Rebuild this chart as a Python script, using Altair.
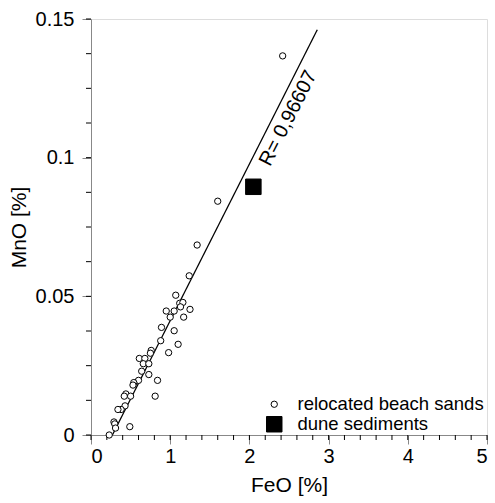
import altair as alt
import pandas as pd

# relocated beach sands (FeO %, MnO %)
beach_feo = [2.42, 1.60, 1.34, 1.24, 1.07, 0.95, 1.05, 1.12, 1.16, 1.13, 1.00, 1.17, 1.25,
             0.89, 1.05, 0.88, 1.10, 0.98, 0.76, 0.75, 0.61, 0.68, 0.66, 0.73, 0.64, 0.73,
             0.84, 0.60, 0.54, 0.53, 0.81, 0.44, 0.42, 0.50, 0.43, 0.38, 0.34, 0.29, 0.30,
             0.31, 0.49, 0.23]
beach_mno = [0.1367, 0.0843, 0.0685, 0.0574, 0.0504, 0.0447, 0.0447, 0.0475, 0.0478, 0.0462,
             0.0425, 0.0425, 0.0453, 0.0388, 0.0376, 0.0340, 0.0327, 0.0297, 0.0305, 0.0295,
             0.0276, 0.0276, 0.0257, 0.0257, 0.0230, 0.0218, 0.0197, 0.0197, 0.0189, 0.0180,
             0.0140, 0.0148, 0.0140, 0.0140, 0.0105, 0.0092, 0.0092, 0.0047, 0.0040, 0.0025,
             0.0030, 0.0]
# dune sediments
dune_feo = [2.05]
dune_mno = [0.0895]

# regression line end points
fit_feo = [0.27, 2.857]
fit_mno = [0.0, 0.1461]
fit_label = "R= 0,96607"
label_feo = [2.49]
label_mno = [0.1142]

series_names = ["relocated beach sands", "dune sediments"]
x_ticks = [0, 1, 2, 3, 4, 5]
y_ticks = [0, 0.05, 0.1, 0.15]
x_minor = [i * 0.2 for i in range(26)]
y_minor = [i * 0.0125 for i in range(13)]

pts = pd.DataFrame({
    "FeO": beach_feo + dune_feo,
    "MnO": beach_mno + dune_mno,
    "type": [series_names[0]] * len(beach_feo) + [series_names[1]] * len(dune_feo),
})
fit = pd.DataFrame({"FeO": fit_feo, "MnO": fit_mno})
lab = pd.DataFrame({"FeO": label_feo, "MnO": label_mno, "t": [fit_label]})
xm = pd.DataFrame({"v": x_minor})
ym = pd.DataFrame({"v": y_minor})

FONT = "Liberation Sans"
W, H = 396, 416

xscale = alt.Scale(domain=[0, 5], nice=False, zero=False)
yscale = alt.Scale(domain=[0, 0.15], nice=False, zero=False)

xaxis = alt.Axis(values=x_ticks, format="d", title="FeO [%]", grid=False, tickSize=9,
                 labelPadding=2, titlePadding=8, labelFontSize=20, titleFontSize=21,
                 titleFontWeight="normal")
yaxis = alt.Axis(values=y_ticks, format="~g", title="MnO [%]", grid=False, tickSize=9,
                 labelPadding=8, titlePadding=6, labelFontSize=20, titleFontSize=21,
                 titleFontWeight="normal")

leg = alt.Legend(title=None, orient="none", legendX=174, legendY=376,
                 labelFontSize=18.5, labelFont=FONT, labelColor="black", labelLimit=400,
                 labelOffset=14, rowPadding=0,
                 symbolStrokeColor="black", symbolStrokeWidth=1)

line = alt.Chart(fit).mark_line(color="black", strokeWidth=1.3).encode(
    x=alt.X("FeO:Q", scale=xscale, axis=xaxis),
    y=alt.Y("MnO:Q", scale=yscale, axis=yaxis),
)

points = alt.Chart(pts).mark_point(filled=True, strokeWidth=1, opacity=1).encode(
    x=alt.X("FeO:Q", scale=xscale),
    y=alt.Y("MnO:Q", scale=yscale),
    shape=alt.Shape("type:N", scale=alt.Scale(domain=series_names, range=["circle", "square"]),
                    legend=leg),
    size=alt.Size("type:N", scale=alt.Scale(domain=series_names, range=[40, 240]), legend=leg),
    fill=alt.Fill("type:N", scale=alt.Scale(domain=series_names, range=["white", "black"]),
                  legend=leg),
    stroke=alt.Stroke("type:N", scale=alt.Scale(domain=series_names, range=["black", "black"]),
                      legend=leg),
)

text = alt.Chart(lab).mark_text(angle=297, fontSize=20, font=FONT, align="center",
                                baseline="middle", color="black").encode(
    x=alt.X("FeO:Q", scale=xscale),
    y=alt.Y("MnO:Q", scale=yscale),
    text="t:N",
)

xminor = alt.Chart(xm).mark_rule(color="black", strokeWidth=1).encode(
    x=alt.X("v:Q", scale=xscale),
    y=alt.value(H),
    y2=alt.value(H + 5),
)
yminor = alt.Chart(ym).mark_rule(color="black", strokeWidth=1).encode(
    y=alt.Y("v:Q", scale=yscale),
    x=alt.value(-5),
    x2=alt.value(0),
)

chart = alt.layer(line, xminor, yminor, text, points).properties(
    width=W, height=H,
    autosize=alt.AutoSizeParams(type="none"),
    padding={"left": 91, "top": 19, "right": 8, "bottom": 68},
).configure_view(stroke="black", strokeWidth=1).configure_axis(
    domainColor="black", domainWidth=1, tickColor="black", tickWidth=1,
    labelColor="black", titleColor="black", labelFont=FONT, titleFont=FONT,
    titleFontWeight="normal",
).configure(background="white")

chart.save("out.html", embed_options={"renderer": "svg", "actions": False})
